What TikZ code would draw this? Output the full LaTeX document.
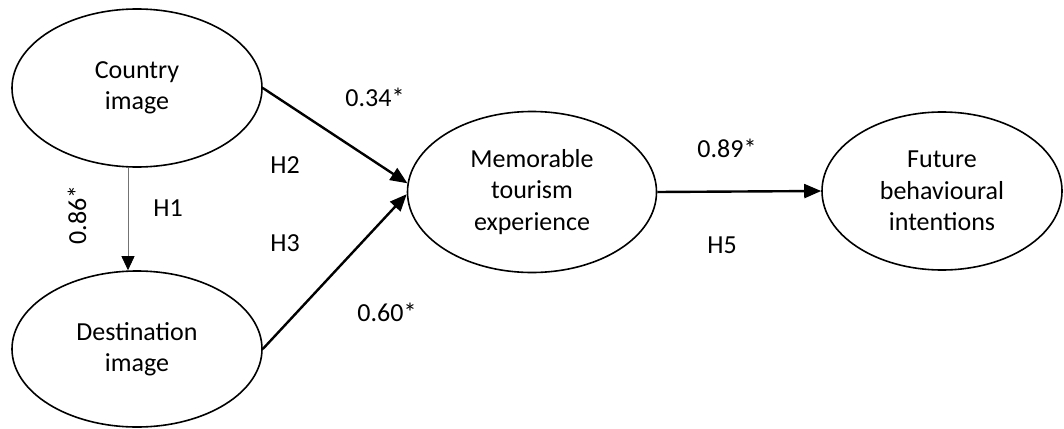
\documentclass[tikz,border=0pt]{standalone}
\usepackage{fontspec}
\setmainfont{Carlito}
\usetikzlibrary{shapes.geometric,arrows.meta}
\tikzset{
  construct/.style={ellipse, draw=black, line width=1.6pt, inner sep=0pt, align=center,
     font=\fontsize{26}{31.5}\selectfont},
  lbl/.style={font=\fontsize{26}{30}\selectfont, inner sep=0pt},
  effect/.style={line width=2.4pt, -{Triangle[length=17pt,width=14pt]}},
  thineffect/.style={draw=black!55, line width=0.8pt, -{Triangle[length=14pt,width=13pt,color=black]}}
}
\begin{document}
\begin{tikzpicture}[x=1pt,y=-1pt]
\useasboundingbox (0,0) rectangle (1064,428);
\node[construct, minimum width=250pt, minimum height=158pt] (ci) at (137,88) {Country\\image};
\node[construct, minimum width=250pt, minimum height=156pt] (di) at (137,349) {Destination\\image};
\node[construct, minimum width=249pt, minimum height=161pt] (mte) at (532,192) {Memorable\\tourism\\experience};
\node[construct, minimum width=240pt, minimum height=158pt] (fbi) at (942,191) {Future\\behavioural\\intentions};

\draw[thineffect] ([xshift=-9pt]ci.south) -- ([xshift=-9pt]di.north);
\draw[effect] (ci.east) -- (mte.176);
\draw[effect] (di.east) -- (mte.181);
\draw[effect] (mte.east) -- (fbi.west);

\node[lbl, rotate=90] (l86) at (77,215) {0.86*};
\node[lbl] (h1) at (168,208) {H1};
\node[lbl] (h2) at (285,165) {H2};
\node[lbl] (h3) at (285,243) {H3};
\node[lbl] (l34) at (375,97) {0.34*};
\node[lbl] (l60) at (387,312) {0.60*};
\node[lbl] (l89) at (727,148) {0.89*};
\node[lbl] (h5) at (722,245) {H5};
\end{tikzpicture}
\end{document}
